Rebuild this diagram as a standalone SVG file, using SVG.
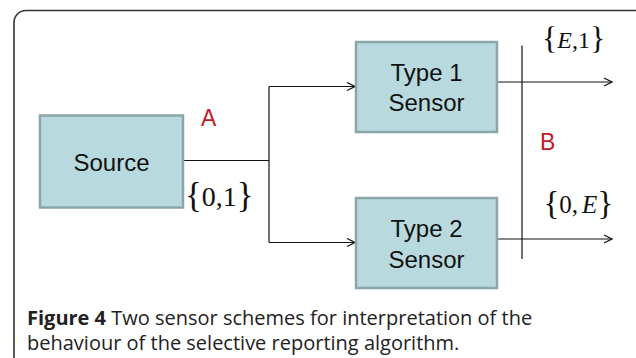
<svg xmlns="http://www.w3.org/2000/svg" width="636" height="358" viewBox="0 0 636 358">
  <style>
    .box { fill: #b8dadf; stroke: #8ba6aa; stroke-width: 2.5; }
    .lbl { font-family: "Liberation Sans", Arial, sans-serif; font-size: 24px; fill: #111; text-anchor: middle; }
    .tag { font-family: "Liberation Sans", Arial, sans-serif; font-size: 23px; fill: #c0201e; }
    .math { font-family: "Liberation Serif", "Times New Roman", serif; fill: #111; }
    .wire { fill: none; stroke: #111; stroke-width: 1.2; }
    .cap { font-family: "Open Sans", "Liberation Sans", sans-serif; font-size: 20px; fill: #222; }
  </style>
  <defs>
    <marker id="open" viewBox="0 0 10 10" refX="9" refY="5" markerWidth="10" markerHeight="10" markerUnits="userSpaceOnUse" orient="auto">
      <path d="M1,1 L9,5 L1,9" fill="none" stroke="#111" stroke-width="1.2"/>
    </marker>
  </defs>
  <rect width="636" height="358" fill="#fff"/>

  <!-- panel frame -->
  <rect x="14" y="10.5" width="640" height="420" rx="12" fill="none" stroke="#333" stroke-width="1.6"/>

  <!-- connectors -->
  <g id="connectors">
    <path class="wire" d="M183,160.5 H269" stroke-width="1.8"/>
    <path class="wire" d="M269,86.5 V242.5"/>
    <path class="wire" d="M269,86.5 H355" marker-end="url(#open)"/>
    <path class="wire" d="M269,242.5 H355" marker-end="url(#open)"/>
    <path class="wire" d="M497,82 H612" marker-end="url(#open)"/>
    <path class="wire" d="M497,239 H612" marker-end="url(#open)"/>
    <path class="wire" d="M522,45.5 V259" stroke-width="2"/>
  </g>

  <g id="source">
    <rect class="box" x="40" y="115.5" width="143" height="92"/>
    <text class="lbl" x="111.5" y="171" font-size="25">Source</text>
  </g>
  <g id="type1">
    <rect class="box" x="356" y="42" width="141" height="90"/>
    <text class="lbl" x="426.5" y="81">Type 1</text>
    <text class="lbl" x="426.5" y="111">Sensor</text>
  </g>
  <g id="type2">
    <rect class="box" x="356" y="198" width="141" height="90"/>
    <text class="lbl" x="426.5" y="237">Type 2</text>
    <text class="lbl" x="426.5" y="268">Sensor</text>
  </g>

  <!-- point labels -->
  <text class="tag" x="201" y="126">A</text>
  <text class="tag" x="540" y="150">B</text>

  <!-- signal sets: braces set larger than their contents -->
  <text id="set-source" class="math" x="185" y="206"><tspan font-size="35" dy="1">{</tspan><tspan font-size="28" dy="-1">0,1</tspan><tspan font-size="35" dy="1">}</tspan></text>
  <text id="set-type1" class="math" x="542" y="48"><tspan font-size="32" dy="1">{</tspan><tspan font-size="24" dy="-1" font-style="italic">E</tspan><tspan font-size="24">,1</tspan><tspan font-size="32" dy="1">}</tspan></text>
  <text id="set-type2" class="math" x="543.5" y="213"><tspan font-size="33" dy="1">{</tspan><tspan font-size="25" dy="-1">0,</tspan><tspan font-size="25" dx="4" font-style="italic">E</tspan><tspan font-size="33" dy="1">}</tspan></text>

  <!-- caption -->
  <text class="cap" x="27" y="325"><tspan font-weight="bold">Figure 4</tspan> Two sensor schemes for interpretation of the</text>
  <text class="cap" x="27" y="350">behaviour of the selective reporting algorithm.</text>
</svg>
